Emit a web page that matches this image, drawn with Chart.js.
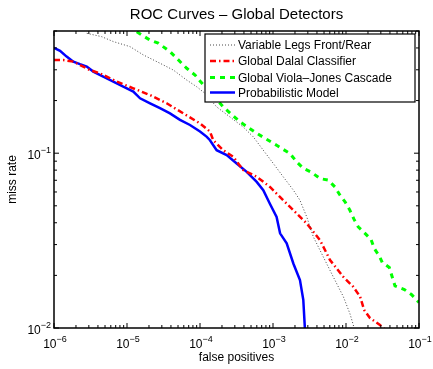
<!DOCTYPE html>
<html>
<head>
<meta charset="utf-8">
<script src="https://cdn.jsdelivr.net/npm/chart.js@4"></script>
<style>
  html, body { margin: 0; padding: 0; background: #fff; }
  #wrap { width: 433px; height: 369px; }
</style>
</head>
<body>
<div id="wrap"><canvas id="myChart" width="433" height="369"></canvas></div>
<script>
// curves (false positives, miss rate)
var legsX = [2.81e-6, 4.5e-6, 6.49e-6, 1.1e-5, 1.67e-5, 2.83e-5, 4.31e-5, 6.58e-5, 9.0e-5, 1.17e-4, 1.69e-4, 2.58e-4, 3.92e-4, 5.37e-4, 7.36e-4, 1.01e-3, 1.38e-3, 1.9e-3, 2.34e-3, 2.9e-3, 3.56e-3, 4.89e-3, 6.7e-3, 9.2e-3, 1.13e-2, 1.26e-2, 1.29e-2];
var legsY = [0.485, 0.464, 0.435, 0.407, 0.365, 0.327, 0.299, 0.262, 0.240, 0.220, 0.184, 0.161, 0.141, 0.124, 0.104, 0.0873, 0.0733, 0.0615, 0.0538, 0.0432, 0.0333, 0.0255, 0.0196, 0.0151, 0.0121, 0.0104, 0.0099];

var dalalX = [1e-6, 1.34e-6, 1.84e-6, 3.11e-6, 4.27e-6, 7.22e-6, 1.22e-5, 2.07e-5, 3.5e-5, 5.9e-5, 1e-4, 1.37e-4, 1.52e-4, 2.08e-4, 2.86e-4, 3.92e-4, 5.98e-4, 9.1e-4, 1.38e-3, 2.11e-3, 2.9e-3, 4.4e-3, 6.04e-3, 9.2e-3, 1.26e-2, 1.56e-2, 1.77e-2, 2.13e-2, 2.92e-2, 3.32e-2];
var dalalY = [0.341, 0.341, 0.334, 0.299, 0.286, 0.257, 0.235, 0.215, 0.193, 0.169, 0.148, 0.133, 0.1186, 0.104, 0.0953, 0.080, 0.0733, 0.0641, 0.0538, 0.0452, 0.0396, 0.0318, 0.0245, 0.0196, 0.0172, 0.0151, 0.0127, 0.0114, 0.0104, 0.0099];

var violaX = [1.36e-5, 2.07e-5, 2.68e-5, 3.88e-5, 4.8e-5, 6.58e-5, 8.55e-5, 1e-4, 2.08e-4, 3.53e-4, 5.98e-4, 1.12e-3, 1.71e-3, 2.11e-3, 2.6e-3, 3.39e-3, 4.4e-3, 5.72e-3, 7.06e-3, 8.28e-3, 9.7e-3, 1.13e-2, 1.29e-2, 1.47e-2, 1.82e-2, 2.2e-2, 2.44e-2, 2.86e-2, 3.14e-2, 3.92e-2, 4.31e-2, 4.69e-2, 6.3e-2, 7.94e-2, 0.1];
var violaY = [0.495, 0.443, 0.426, 0.381, 0.349, 0.306, 0.280, 0.259, 0.184, 0.151, 0.130, 0.111, 0.0995, 0.0891, 0.0819, 0.0776, 0.0716, 0.0701, 0.0641, 0.0575, 0.0527, 0.0472, 0.0418, 0.0379, 0.0348, 0.0321, 0.0285, 0.0258, 0.0237, 0.0222, 0.0195, 0.0174, 0.0166, 0.0155, 0.0140];

var probX = [1e-6, 1.21e-6, 1.49e-6, 1.84e-6, 2.27e-6, 2.81e-6, 3.45e-6, 4.73e-6, 6.49e-6, 8.9e-6, 1.22e-5, 1.51e-5, 2.07e-5, 2.83e-5, 3.88e-5, 5.32e-5, 7.29e-5, 1e-4, 1.24e-4, 1.37e-4, 1.69e-4, 2.32e-4, 3.18e-4, 4.36e-4, 5.98e-4, 7.36e-4, 9.1e-4, 1.12e-3, 1.25e-3, 1.54e-3, 1.9e-3, 2.34e-3, 2.6e-3, 2.74e-3];
var probY = [0.401, 0.385, 0.357, 0.334, 0.323, 0.313, 0.293, 0.274, 0.257, 0.240, 0.225, 0.206, 0.193, 0.181, 0.169, 0.155, 0.145, 0.133, 0.124, 0.1186, 0.104, 0.0975, 0.0873, 0.0782, 0.0685, 0.0615, 0.0512, 0.0432, 0.0348, 0.0305, 0.0234, 0.0188, 0.0145, 0.0098];

var xTicks = [1e-6, 1e-5, 1e-4, 1e-3, 1e-2, 1e-1];
var xTickExp = ["\u22126", "\u22125", "\u22124", "\u22123", "\u22122", "\u22121"];
var yTicks = [1e-2, 1e-1];
var yTickExp = ["\u22122", "\u22121"];

var seriesNames = ["Variable Legs Front/Rear", "Global Dalal Classifier", "Global Viola\u2013Jones Cascade", "Probabilistic Model"];

function pairs(xs, ys) {
  return xs.map((x, i) => ({ x: x, y: ys[i] }));
}

function drawPow(ctx, x, y, exp, align) {
  ctx.font = "12px 'Liberation Sans', Arial, sans-serif";
  var wb = ctx.measureText("10").width;
  ctx.font = "9px 'Liberation Sans', Arial, sans-serif";
  var we = ctx.measureText(exp).width;
  var left = align == "center" ? x - (wb + we) / 2 : x - wb - we;
  ctx.textAlign = "left";
  ctx.textBaseline = "alphabetic";
  ctx.font = "12px 'Liberation Sans', Arial, sans-serif";
  ctx.fillText("10", left, y);
  ctx.font = "9px 'Liberation Sans', Arial, sans-serif";
  ctx.fillText(exp, left + wb, y - 6);
}

const matlabAxes = {
  id: "matlabAxes",
  afterDraw(chart) {
    var ctx = chart.ctx;
    var a = chart.chartArea;
    var xs = chart.scales.x;
    var ys = chart.scales.y;
    ctx.save();
    ctx.fillStyle = "#000";
    ctx.strokeStyle = "#000";

    // box
    ctx.lineWidth = 1.5;
    ctx.strokeRect(a.left, a.top, a.right - a.left, a.bottom - a.top);

    // ticks, inward on all four sides
    ctx.lineWidth = 1;
    ctx.beginPath();
    for (let d = -6; d <= -1; d++) {
      for (let k = 1; k <= 9; k++) {
        var v = k * Math.pow(10, d);
        if (v > 0.1 * 1.0001) continue;
        var px = xs.getPixelForValue(v);
        var len = k == 1 ? 5 : 3;
        ctx.moveTo(px, a.bottom);
        ctx.lineTo(px, a.bottom - len);
        ctx.moveTo(px, a.top);
        ctx.lineTo(px, a.top + len);
      }
    }
    for (let d = -2; d <= -1; d++) {
      for (let k = 1; k <= 9; k++) {
        var v = k * Math.pow(10, d);
        if (v > 0.5) continue;
        var py = ys.getPixelForValue(v);
        var len = k == 1 ? 5 : 3;
        ctx.moveTo(a.left, py);
        ctx.lineTo(a.left + len, py);
        ctx.moveTo(a.right, py);
        ctx.lineTo(a.right - len, py);
      }
    }
    ctx.stroke();

    // tick labels
    for (let i = 0; i < xTicks.length; i++) {
      drawPow(ctx, xs.getPixelForValue(xTicks[i]) + 1, a.bottom + 20, xTickExp[i], "center");
    }
    for (let i = 0; i < yTicks.length; i++) {
      drawPow(ctx, a.left - 3, ys.getPixelForValue(yTicks[i]) + 6, yTickExp[i], "right");
    }

    // title and axis titles
    var cx = (a.left + a.right) / 2;
    ctx.textAlign = "center";
    ctx.font = "15px 'Liberation Sans', Arial, sans-serif";
    ctx.fillText("ROC Curves \u2013 Global Detectors", cx, 19);
    ctx.font = "12px 'Liberation Sans', Arial, sans-serif";
    ctx.fillText("false positives", cx, 361);
    ctx.save();
    ctx.translate(16, (a.top + a.bottom) / 2);
    ctx.rotate(-Math.PI / 2);
    ctx.fillText("miss rate", 0, 0);
    ctx.restore();

    // legend box inside the plot
    var lx = 205, ly = 34, lw = 210, lh = 68;
    ctx.fillStyle = "#fff";
    ctx.fillRect(lx, ly, lw, lh);
    ctx.lineWidth = 1.2;
    ctx.strokeStyle = "#000";
    ctx.strokeRect(lx, ly, lw, lh);
    var rows = [45, 61, 77.5, 92.5];
    chart.data.datasets.forEach((ds, i) => {
      ctx.save();
      ctx.strokeStyle = ds.borderColor;
      ctx.lineWidth = ds.borderWidth;
      ctx.setLineDash(ds.borderDash || []);
      ctx.beginPath();
      ctx.moveTo(lx + 5, rows[i]);
      ctx.lineTo(lx + 30, rows[i]);
      ctx.stroke();
      ctx.restore();
      ctx.fillStyle = "#000";
      ctx.textAlign = "left";
      ctx.textBaseline = "middle";
      ctx.font = "12px 'Liberation Sans', Arial, sans-serif";
      ctx.fillText(ds.label, lx + 33, rows[i] + 1);
    });
    ctx.restore();
  },
};

const config = {
  type: "line",
  data: {
    datasets: [
      {
        label: seriesNames[0],
        data: pairs(legsX, legsY),
        borderColor: "rgba(40,40,40,0.85)",
        borderWidth: 1,
        borderDash: [1, 2],
      },
      {
        label: seriesNames[1],
        data: pairs(dalalX, dalalY),
        borderColor: "#ff0000",
        borderWidth: 2.5,
        borderDash: [6, 3, 1.5, 3],
      },
      {
        label: seriesNames[2],
        data: pairs(violaX, violaY),
        borderColor: "#00ff00",
        borderWidth: 3,
        borderDash: [5, 5],
      },
      {
        label: seriesNames[3],
        data: pairs(probX, probY),
        borderColor: "#0000ff",
        borderWidth: 2.5,
      },
    ],
  },
  options: {
    responsive: false,
    animation: false,
    devicePixelRatio: 1,
    elements: { point: { radius: 0 }, line: { tension: 0 } },
    layout: { padding: { left: 54, right: 14, top: 31, bottom: 41 } },
    plugins: {
      legend: { display: false },
      title: { display: false },
      tooltip: { enabled: false },
    },
    scales: {
      x: { type: "logarithmic", min: 1e-6, max: 0.1, display: false },
      y: { type: "logarithmic", min: 0.01, max: 0.5, display: false },
    },
  },
  plugins: [matlabAxes],
};

const myChart = new Chart(document.getElementById("myChart"), config);
</script>
</body>
</html>
